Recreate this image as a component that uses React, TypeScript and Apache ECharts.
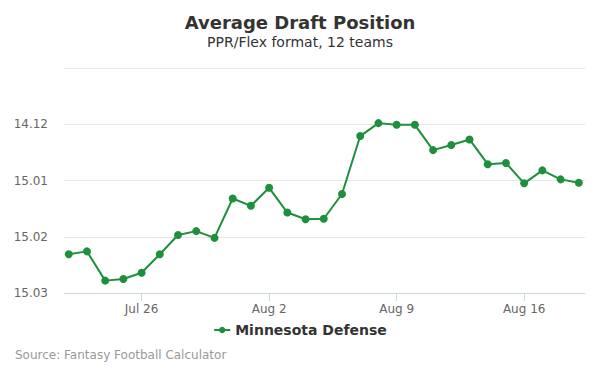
import React, { useEffect, useRef } from "react";
import * as echarts from "echarts";

const dates = [
  "Jul 22", "Jul 23", "Jul 24", "Jul 25", "Jul 26", "Jul 27", "Jul 28", "Jul 29", "Jul 30", "Jul 31",
  "Aug 1", "Aug 2", "Aug 3", "Aug 4", "Aug 5", "Aug 6", "Aug 7", "Aug 8", "Aug 9", "Aug 10",
  "Aug 11", "Aug 12", "Aug 13", "Aug 14", "Aug 15", "Aug 16", "Aug 17", "Aug 18", "Aug 19",
];

// overall pick number (12 teams): 168 = 14.12, 169 = 15.01 ...
const adp = [
  170.31, 170.26, 170.78, 170.75, 170.64, 170.31, 169.97, 169.9, 170.02, 169.32,
  169.45, 169.13, 169.57, 169.69, 169.68, 169.24, 168.21, 167.98, 168.01, 168.01,
  168.46, 168.37, 168.27, 168.71, 168.69, 169.05, 168.82, 168.98, 169.04,
];

const xTickIdx = [4, 11, 18, 25];
const yTicks = [167, 168, 169, 170, 171];
const TEAMS = 12;

const fmtPick = (v: number) => {
  const n = Math.round(v);
  const round = Math.floor((n - 1) / TEAMS) + 1;
  const pick = ((n - 1) % TEAMS) + 1;
  return `${round}.${pick < 10 ? "0" + pick : pick}`;
};

export default function App() {
  const ref = useRef<HTMLDivElement>(null);
  useEffect(() => {
    if (!ref.current) return;
    const chart = echarts.init(ref.current, undefined, { renderer: "svg" });
    const font = "DejaVu Sans, sans-serif";
    chart.setOption({
      animation: false,
      textStyle: { fontFamily: font },
      title: {
        text: "Average Draft Position",
        subtext: "PPR/Flex format, 12 teams",
        left: "center",
        top: 8,
        itemGap: 4,
        textStyle: { fontSize: 18, fontWeight: "bold", color: "#333333", fontFamily: font },
        subtextStyle: { fontSize: 14, color: "#333333", fontFamily: font },
      },
      grid: { left: 64, right: 15, top: 68, bottom: 82, containLabel: false },
      xAxis: {
        type: "value",
        min: -0.26,
        max: dates.length - 1 + 0.34,
        splitLine: { show: false },
        axisLine: { show: true, lineStyle: { color: "#ccd6eb", width: 1 } },
        axisTick: {
          show: true,
          customValues: xTickIdx,
          length: 8,
          lineStyle: { color: "#ccd6eb" },
        },
        axisLabel: {
          customValues: xTickIdx,
          formatter: (v: number) => dates[Math.round(v)] ?? "",
          color: "#666666",
          fontSize: 12,
          margin: 10,
          fontFamily: font,
        },
      },
      yAxis: {
        type: "value",
        inverse: true,
        min: yTicks[0],
        max: yTicks[yTicks.length - 1],
        interval: 1,
        axisLine: { show: false },
        axisTick: { show: false },
        splitLine: { show: true, lineStyle: { color: "#e6e6e6", width: 1 } },
        axisLabel: {
          formatter: (v: number) => (v === yTicks[0] ? "" : fmtPick(v)),
          color: "#666666",
          fontSize: 12,
          margin: 16,
          fontFamily: font,
        },
      },
      legend: {
        bottom: 33,
        left: "center",
        itemWidth: 16,
        itemHeight: 8,
        itemGap: 6,
        textStyle: { fontSize: 14, fontWeight: "bold", color: "#333333", fontFamily: font },
        data: ["Minnesota Defense"],
      },
      graphic: [
        {
          type: "text",
          left: 15,
          top: 349,
          style: {
            text: "Source: Fantasy Football Calculator",
            fill: "#999999",
            fontSize: 12,
            fontFamily: font,
          },
        },
      ],
      series: [
        {
          name: "Minnesota Defense",
          type: "line",
          data: adp.map((v, i) => [i, v]),
          symbol: "circle",
          symbolSize: 8,
          lineStyle: { color: "#1d8f3d", width: 2 },
          itemStyle: { color: "#1d8f3d" },
        },
      ],
    });
    return () => chart.dispose();
  }, []);
  return <div ref={ref} style={{ width: 600, height: 375, position: "absolute", left: 0, top: 0 }} />;
}
